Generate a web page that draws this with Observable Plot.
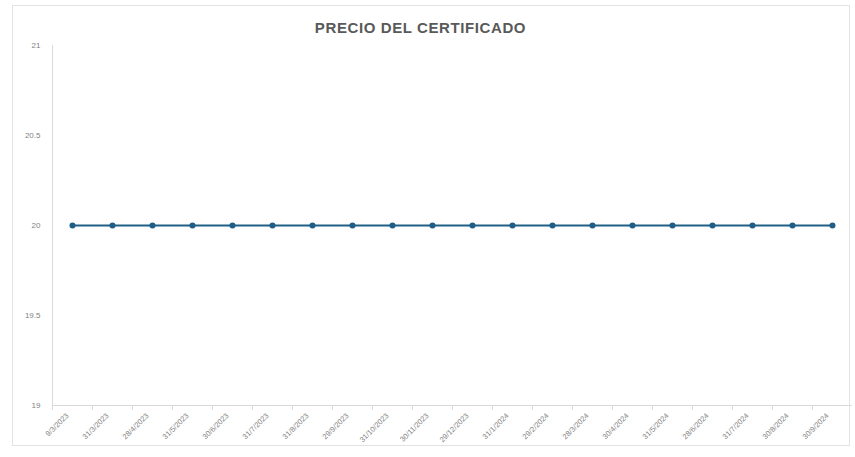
<!DOCTYPE html>
<html><head><meta charset="utf-8">
<script src="https://cdn.jsdelivr.net/npm/d3@7"></script>
<script src="https://cdn.jsdelivr.net/npm/@observablehq/plot@0.6"></script>
<style>
body{margin:0;background:#fff;font-family:"Liberation Sans",Arial,sans-serif;}
#wrap{position:relative;width:855px;height:457px;}
#frame{position:absolute;left:12px;top:5px;width:838px;height:441px;border:1px solid #e3e3e3;box-sizing:border-box;pointer-events:none;}
</style></head>
<body><div id="wrap"><div id="frame"></div></div>
<script>
const title = "PRECIO DEL CERTIFICADO";
const fechas = ["9/3/2023","31/3/2023","28/4/2023","31/5/2023","30/6/2023","31/7/2023","31/8/2023","29/9/2023","31/10/2023","30/11/2023","29/12/2023","31/1/2024","29/2/2024","28/3/2024","30/4/2024","31/5/2024","28/6/2024","31/7/2024","30/8/2024","30/9/2024"];
const precios = [20,20,20,20,20,20,20,20,20,20,20,20,20,20,20,20,20,20,20,20];
const yTicks = [19,19.5,20,20.5,21];

const data = fechas.map((f,i)=>({fecha:f, precio:precios[i]}));
const gray = "#595959";
const lightGray = "#7f7f7f";
const step = 800/fechas.length;

const chart = Plot.plot({
  width: 855, height: 457,
  marginLeft: 52, marginRight: 3, marginTop: 45, marginBottom: 52,
  style:{fontFamily:"Liberation Sans, Arial, sans-serif", color: gray, background:"transparent"},
  x:{type:"band", domain: fechas, padding:0, label:null},
  y:{domain:[19,21], label:null},
  marks:[
    Plot.axisY({ticks: yTicks, tickSize:0, tickPadding:12, fontSize:8, tickFormat: d=>String(d), fill: lightGray, label:null}),
    Plot.axisX({tickSize:5, text:null, dx: -step/2, stroke:"#d9d9d9", label:null}),
    Plot.axisX({tickSize:0, tickRotate:-45, tickPadding:9, fontSize:7.5, fill: lightGray, dx:-5, label:null}),
    Plot.ruleY([19], {stroke:"#d9d9d9"}),
    Plot.ruleX([fechas[0]], {dx:-step/2, stroke:"#d9d9d9"}),
    Plot.line(data, {x:"fecha", y:"precio", stroke:"#1f5f85", strokeWidth:1.8}),
    Plot.dot(data, {x:"fecha", y:"precio", fill:"#1f5f85", r:3, symbol:"circle"}),
    Plot.text([title], {frameAnchor:"top", dy:-23, fontSize:15, fontWeight:"bold", fill:gray, dx:-32, style:"letter-spacing:0.6px"})
  ]
});
chart.querySelectorAll("text").forEach(t=>{ if (t.textContent===title) t.setAttribute("letter-spacing","0.6"); });
document.getElementById("wrap").prepend(chart);
</script></body></html>
